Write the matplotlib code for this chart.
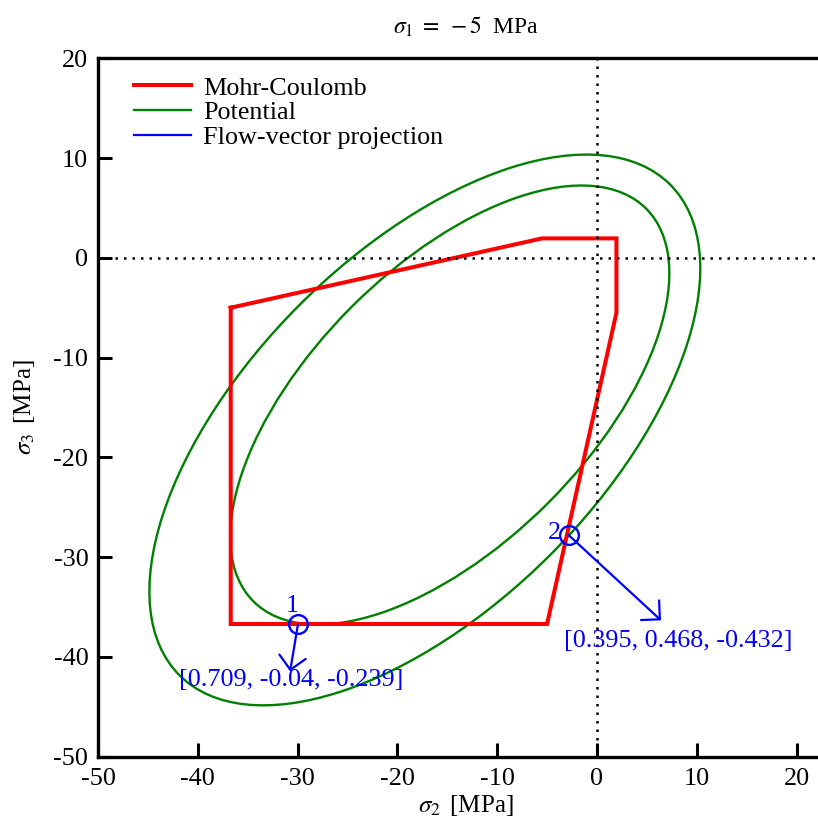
import matplotlib
matplotlib.use("Agg")
import matplotlib.pyplot as plt
from matplotlib.patches import Ellipse, FancyArrowPatch
from matplotlib.lines import Line2D

plt.rcParams.update({
    "font.family": ["Liberation Serif", "DejaVu Serif"],
    "mathtext.fontset": "stix",
    "axes.unicode_minus": False,
})

# Mohr-Coulomb yield surface cross-section at sigma_1 = -5 MPa
mc_s2 = [-36.7, -5.5, 1.95, 1.95, -5.0, -36.7, -36.7]
mc_s3 = [-5.0, 1.95, 1.95, -5.5, -36.7, -36.7, -5.0]

# Plastic potential contours (ellipses aligned with sigma_2 = sigma_3)
pot_center = [-17.25, -14.75]
pot_semi_major = [34.77, 27.83]
pot_semi_minor = [17.74, 13.91]

# Stress points and their flow vectors
pt_labels = ["1", "2"]
pt_s2 = [-29.96, -2.85]
pt_s3 = [-36.72, -27.78]
flow_vectors = [[0.709, -0.04, -0.239], [0.395, 0.468, -0.432]]
arrow_scale = 19.8

x_ticks = [-50, -40, -30, -20, -10, 0, 10, 20]
y_ticks = [-50, -40, -30, -20, -10, 0, 10, 20]

FS = 18.8
W, H = 818, 825
fig = plt.figure(figsize=(W / 100, H / 100), dpi=100)
ax = fig.add_axes([98 / W, 68.3 / H, 735.5 / W, 698.4 / H])

ax.plot(mc_s2, mc_s3, color="red", lw=2.9, solid_joinstyle="miter", zorder=3)

for c, a, b in zip(pot_center, pot_semi_major, pot_semi_minor):
    ax.add_patch(Ellipse((c, c), 2 * a, 2 * b, angle=45, fill=False,
                         edgecolor="green", lw=1.7, zorder=2))

dots = (0, (1, 2.4))
ax.axhline(0, color="black", lw=1.8, ls=dots, zorder=4)
ax.axvline(0, color="black", lw=1.8, ls=dots, zorder=4)

for s2, s3, v in zip(pt_s2, pt_s3, flow_vectors):
    end = (s2 + arrow_scale * v[1], s3 + arrow_scale * v[2])
    ax.add_patch(FancyArrowPatch((s2, s3), end,
                                 arrowstyle="->,head_length=0.4,head_width=0.4",
                                 mutation_scale=24, color="blue", lw=1.6,
                                 shrinkA=0, shrinkB=0, zorder=5))
ax.plot(pt_s2, pt_s3, "o", ms=13.5, mfc="none", mec="blue", mew=1.7, zorder=6)

# point labels and flow-vector annotations
ax.text(-30.55, -35.46, pt_labels[0], color="blue", fontsize=FS,
        ha="center", va="baseline", zorder=6)
ax.text(-3.6, -28.2, pt_labels[1], color="blue", fontsize=FS,
        ha="right", va="baseline", zorder=6)
for (s2, s3, v), (tx, ty) in zip(zip(pt_s2, pt_s3, flow_vectors),
                                 [(-30.6, -42.95), (8.18, -38.97)]):
    txt = "[" + ", ".join(f"{c:g}" for c in v) + "]"
    ax.text(tx, ty, txt, color="blue", fontsize=FS, ha="center",
            va="baseline", zorder=6)

handles = [
    Line2D([], [], color="red", lw=2.9),
    Line2D([], [], color="green", lw=1.7),
    Line2D([], [], color="blue", lw=1.6),
]
ax.legend(handles, ["Mohr-Coulomb", "Potential", "Flow-vector projection"],
          loc="upper left", frameon=False, fontsize=FS,
          handlelength=2.2, handletextpad=0.45, labelspacing=0.05,
          borderpad=0, borderaxespad=0,
          bbox_to_anchor=(36 / 735.5, 1 - 18 / 698.4))

ax.set_xlim(-50, 23.7)
ax.set_ylim(-50, 20)
ax.set_xticks(x_ticks)
ax.set_yticks(y_ticks)
ax.tick_params(direction="in", length=10, width=2.2, labelsize=FS,
               pad=8, top=False, right=False)
ax.tick_params(axis="y", pad=7)
for s in ax.spines.values():
    s.set_linewidth(2.4)

ax.set_title(r"$\sigma_1\;=\;-5\;$ MPa", fontsize=17, pad=18)
ax.set_xlabel(r"$\sigma_2\,$ [MPa]", fontsize=18, labelpad=2)
ax.set_ylabel(r"$\sigma_3\,$ [MPa]", fontsize=18, labelpad=12)

fig.savefig("out.png", dpi=100)
